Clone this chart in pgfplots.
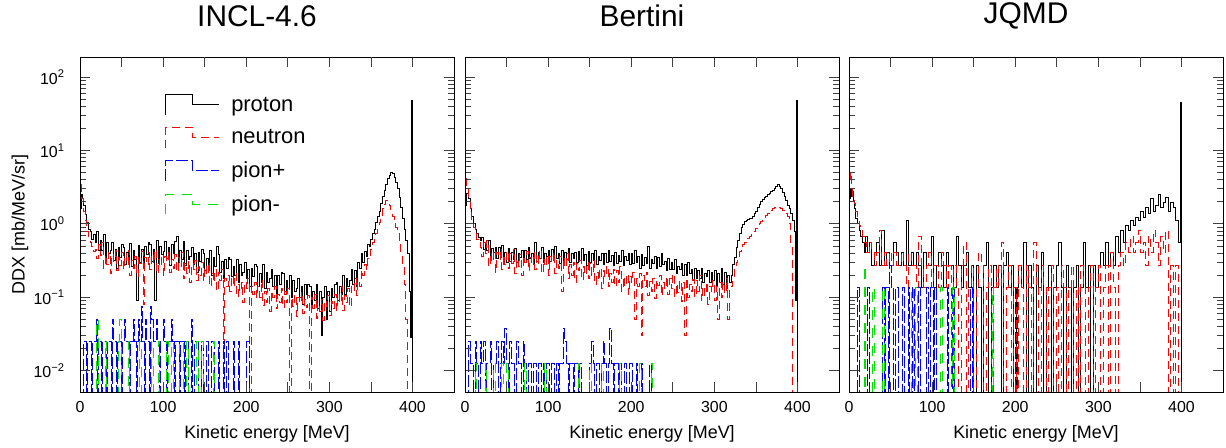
\documentclass[border=0pt]{standalone}
\usepackage{fontspec}
\setmainfont{Liberation Sans}
\usepackage{pgfplots}
\pgfplotsset{compat=1.18}
\definecolor{pgreen}{RGB}{0,225,0}

\pgfplotsset{
  ddxpanel/.style={
    scale only axis, width=374bp, height=335bp,
    anchor=south west,
    xmin=0, xmax=450, ymin=0.0051, ymax=188,
    xtick={0,100,200,300,400}, xticklabels={0,100,200,300,400},
    extra x ticks={50,150,250,350}, extra x tick labels={},
    ytick={0.01,0.1,1,10,100},
    tick align=inside, major tick length=10bp, minor tick length=6bp,
    every tick/.style={black!75, line width=0.7bp},
    axis line style={line width=0.8bp},
    tick label style={font=\fontsize{16}{18}\selectfont},
    xticklabel style={yshift=-6bp},
    xlabel={Kinetic energy [MeV]},
    every axis x label/.style={at={(axis description cs:0.5,0)}, yshift=-42bp, anchor=center, font=\fontsize{18}{20}\selectfont},
    title style={font=\fontsize{30}{34}\selectfont, at={(axis description cs:0.5,1)}, anchor=center, yshift=35bp, xshift=-10bp},
    axis on top,
  },
  sProt/.style={black, line width=0.8bp, const plot},
  sNeut/.style={red, line width=0.8bp, const plot, dash pattern=on 8bp off 5bp},
  sPip/.style={blue, line width=0.8bp, const plot, dash pattern=on 12bp off 3bp},
  sPim/.style={pgreen, line width=0.8bp, const plot, dash pattern=on 10bp off 8bp},
}

\begin{document}
\begin{tikzpicture}
\path[use as bounding box] (0,0) rectangle (1226bp,448bp);

% ---------------- INCL-4.6 ----------------
\begin{semilogyaxis}[ddxpanel, at={(80bp,56bp)}, title={INCL-4.6},
  yticklabels={10\textsuperscript{−2},10\textsuperscript{−1},10\textsuperscript{0},10\textsuperscript{1},10\textsuperscript{2}},
  yticklabel style={xshift=-12bp},
  ylabel={DDX [mb/MeV/sr]},
  every axis y label/.style={at={(axis description cs:0,0.5)}, xshift=-60bp, rotate=90, anchor=center, font=\fontsize{18}{20}\selectfont},
  legend image code/.code={\draw[#1] (0bp,-10bp) -- (0bp,10bp) -- (27bp,10bp) -- (27bp,0bp) -- (53bp,0bp);},
  legend style={draw=none, fill=none, at={(axis description cs:0.22,0.895)}, anchor=north west,
    font=\fontsize{22}{24}\selectfont, row sep=12bp, column sep=10bp},
  legend cell align=left,
]
\addplot[sProt] coordinates {(0,0.9)(1,1.6)(2,2.5)(3,2.2)(4,1.8)(6,1.35)(8,1.05)(10,0.85)(12,0.8)(14,0.62)(16,0.72)(18,0.55)
(20,0.78)(22,0.43)(24,0.59)(26,0.44)(28,0.71)(30,0.33)(32,0.55)(34,0.40)(36,0.43)(38,0.55)
(40,0.32)(42,0.45)(44,0.25)(46,0.48)(48,0.35)(50,0.52)(52,0.48)(54,0.28)(56,0.41)(58,0.31)
(60,0.54)(62,0.26)(64,0.44)(66,0.33)(68,0.09)(70,0.51)(72,0.30)(74,0.45)(76,0.25)(78,0.50)
(80,0.38)(82,0.56)(84,0.53)(86,0.31)(88,0.45)(90,0.09)(92,0.59)(94,0.29)(96,0.50)(98,0.38)
(100,0.42)(102,0.57)(104,0.34)(106,0.48)(108,0.27)(110,0.52)(112,0.40)(114,0.57)(116,0.68)(118,0.30)
(120,0.44)(122,0.33)(124,0.57)(126,0.27)(128,0.44)(130,0.33)(132,0.36)(134,0.47)(136,0.28)(138,0.39)
(140,0.22)(142,0.41)(144,0.31)(146,0.45)(148,0.40)(150,0.23)(152,0.34)(154,0.26)(156,0.44)(158,0.20)
(160,0.35)(162,0.26)(164,0.5)(166,0.38)(168,0.22)(170,0.31)(172,0.18)(174,0.33)(176,0.25)(178,0.35)
(180,0.33)(182,0.19)(184,0.26)(186,0.20)(188,0.33)(190,0.16)(192,0.28)(194,0.20)(196,0.22)(198,0.30)
(200,0.18)(202,0.24)(204,0.14)(206,0.25)(208,0.19)(210,0.28)(212,0.26)(214,0.14)(216,0.21)(218,0.16)
(220,0.28)(222,0.13)(224,0.22)(226,0.16)(228,0.18)(230,0.24)(232,0.14)(234,0.20)(236,0.11)(238,0.20)
(240,0.15)(242,0.22)(244,0.21)(246,0.11)(248,0.17)(250,0.13)(252,0.20)(254,0.10)(256,0.17)(258,0.12)
(260,0.13)(262,0.18)(264,0.10)(266,0.14)(268,0.08)(270,0.15)(272,0.11)(274,0.15)(276,0.14)(278,0.08)
(280,0.12)(282,0.09)(284,0.15)(286,0.07)(288,0.12)(290,0.03)(292,0.10)(294,0.14)(296,0.05)(298,0.12)
(300,0.065)(302,0.13)(304,0.10)(306,0.15)(308,0.16)(310,0.09)(312,0.14)(314,0.11)(316,0.20)(318,0.11)
(320,0.18)(322,0.14)(324,0.17)(326,0.24)(328,0.15)(330,0.23)(332,0.14)(334,0.30)(336,0.25)(338,0.39)
(340,0.3)(342,0.42)(344,0.36)(346,0.52)(348,0.5)(350,0.62)(352,0.75)(354,0.85)(356,1.05)(358,1.25)
(360,1.5)(362,1.9)(364,2.4)(366,2.9)(368,3.5)(370,4.1)(372,4.6)(374,5.0)(376,4.8)(378,4.3)
(380,3.7)(382,3.0)(384,2.3)(386,1.7)(388,1.2)(390,0.85)(392,0.6)(394,0.4)(396,0.12)(397,0.028)(399,48)(400.5,0.001)(450,0.001)};
\addlegendentry{proton}
\addplot[sNeut] coordinates {(0,5.0)(1,3.5)(2,2.2)(4,1.5)(6,1.1)(8,0.8)(10,0.68)(12,0.55)(14,0.5)(16,0.42)(18,0.45)
(20,0.34)(22,0.52)(24,0.37)(26,0.56)(28,0.25)(30,0.37)(32,0.28)(34,0.41)(36,0.21)(38,0.38)
(40,0.31)(42,0.43)(44,0.23)(46,0.35)(48,0.27)(50,0.41)(52,0.24)(54,0.39)(56,0.28)(58,0.44)
(60,0.20)(62,0.32)(64,0.25)(66,0.36)(68,0.19)(70,0.35)(72,0.29)(74,0.42)(76,0.08)(78,0.35)
(80,0.27)(82,0.41)(84,0.24)(86,0.39)(88,0.29)(90,0.45)(92,0.21)(94,0.33)(96,0.26)(98,0.38)
(100,0.20)(102,0.36)(104,0.30)(106,0.41)(108,0.22)(110,0.33)(112,0.25)(114,0.38)(116,0.22)(118,0.35)
(120,0.26)(122,0.41)(124,0.18)(126,0.29)(128,0.21)(130,0.31)(132,0.16)(134,0.29)(136,0.24)(138,0.32)
(140,0.17)(142,0.26)(144,0.20)(146,0.30)(148,0.17)(150,0.27)(152,0.20)(154,0.30)(156,0.14)(158,0.21)
(160,0.16)(162,0.24)(164,0.12)(166,0.22)(168,0.17)(170,0.24)(172,0.018)(174,0.18)(176,0.14)(178,0.20)
(180,0.12)(182,0.20)(184,0.14)(186,0.21)(188,0.10)(190,0.15)(192,0.12)(194,0.16)(196,0.085)(198,0.16)
(200,0.13)(202,0.18)(204,0.001)(206,0.14)(208,0.11)(210,0.16)(212,0.10)(214,0.14)(216,0.10)(218,0.17)
(220,0.077)(222,0.12)(224,0.085)(226,0.13)(228,0.065)(230,0.12)(232,0.10)(234,0.14)(236,0.07)(238,0.11)
(240,0.085)(242,0.13)(244,0.072)(246,0.12)(248,0.085)(250,0.13)(252,0.001)(254,0.097)(256,0.074)(258,0.11)
(260,0.055)(262,0.10)(264,0.083)(266,0.115)(268,0.06)(270,0.092)(272,0.072)(274,0.105)(276,0.001)(278,0.10)
(280,0.071)(282,0.11)(284,0.052)(286,0.083)(288,0.064)(290,0.094)(292,0.049)(294,0.09)(296,0.075)(298,0.105)
(300,0.056)(302,0.089)(304,0.071)(306,0.11)(308,0.066)(310,0.11)(312,0.084)(314,0.14)(316,0.066)(318,0.107)
(320,0.085)(322,0.13)(324,0.073)(326,0.14)(328,0.124)(330,0.18)(332,0.105)(334,0.17)(336,0.14)(338,0.23)
(340,0.2)(342,0.28)(344,0.24)(346,0.34)(348,0.36)(350,0.45)(352,0.55)(354,0.62)(356,0.75)(358,0.9)
(360,1.05)(362,1.3)(364,1.6)(366,1.85)(368,2.1)(370,2.0)(372,1.8)(374,1.5)(376,1.25)(378,1.05)
(380,0.9)(382,0.75)(384,0.55)(386,0.4)(388,0.28)(390,0.15)(392,0.05)(394,0.001)(450,0.001)};
\addlegendentry{neutron}
\addplot[sPip] coordinates {(2,0.001)(4,0.025)(6,0.025)(8,0.001)(9,0.025)(12,0.025)(14,0.001)(15,0.025)(18,0.025)(20,0.05)(21,0.001)(22,0.025)(24,0.025)(26,0.001)(27,0.025)(30,0.025)(32,0.001)(33,0.025)(36,0.025)(38,0.001)(39,0.05)(40,0.025)(42,0.025)(44,0.001)(45,0.025)(48,0.025)(50,0.001)(51,0.025)(54,0.05)(55,0.025)(58,0.025)(60,0.001)(61,0.025)(64,0.05)(65,0.025)(68,0.001)(69,0.025)(70,0.05)(72,0.025)(74,0.075)(75,0.025)(78,0.001)(79,0.05)(80,0.025)(82,0.025)(84,0.001)(85,0.075)(86,0.05)(88,0.025)(90,0.025)(92,0.05)(93,0.025)(96,0.001)(97,0.025)(100,0.05)(102,0.025)(104,0.001)(105,0.025)(108,0.025)(110,0.05)(111,0.025)(114,0.001)(115,0.025)(118,0.025)(120,0.001)(121,0.025)(124,0.025)(126,0.001)(127,0.025)(130,0.001)(134,0.05)(135,0.001)(138,0.025)(140,0.025)(142,0.001)(146,0.025)(148,0.001)(152,0.025)(154,0.001)(158,0.025)(160,0.025)(162,0.001)(166,0.025)(168,0.001)(172,0.025)(174,0.001)(176,0.025)(178,0.001)(184,0.025)(186,0.001)(190,0.025)(192,0.001)(200,0.025)(202,0.025)(204,0.001)(210,0.001)};
\addlegendentry{pion+}
\addplot[sPim] coordinates {(0,0.001)(20,0.05)(22,0.001)(30,0.025)(32,0.001)(46,0.025)(48,0.05)(50,0.001)(58,0.025)(60,0.001)(72,0.025)(74,0.001)(86,0.025)(88,0.001)(94,0.025)(96,0.001)(104,0.025)(106,0.001)(110,0.025)(112,0.001)(120,0.025)(122,0.025)(124,0.001)(128,0.025)(130,0.001)(140,0.025)(142,0.001)(146,0.025)(148,0.001)(160,0.025)(162,0.001)(200,0.001)};
\addlegendentry{pion-}
\end{semilogyaxis}

% ---------------- Bertini ----------------
\begin{semilogyaxis}[ddxpanel, at={(465bp,56bp)}, title={Bertini}, yticklabels={}]
\addplot[sProt] coordinates {(0,0.5)(1,1.8)(2,2.6)(4,2.2)(6,1.6)(8,1.25)(10,1.0)(12,0.85)(14,0.75)(16,0.66)(18,0.6)
(20,0.66)(22,0.45)(24,0.56)(26,0.44)(28,0.59)(30,0.36)(32,0.46)(34,0.41)(36,0.48)(38,0.34)
(40,0.47)(42,0.35)(44,0.51)(46,0.36)(48,0.41)(50,0.30)(52,0.46)(54,0.31)(56,0.41)(58,0.33)
(60,0.46)(62,0.30)(64,0.39)(66,0.35)(68,0.43)(70,0.30)(72,0.44)(74,0.33)(76,0.48)(78,0.34)
(80,0.40)(82,0.29)(84,0.55)(86,0.31)(88,0.41)(90,0.34)(92,0.48)(94,0.30)(96,0.40)(98,0.36)
(100,0.44)(102,0.31)(104,0.45)(106,0.33)(108,0.49)(110,0.34)(112,0.40)(114,0.29)(116,0.44)(118,0.31)
(120,0.41)(122,0.33)(124,0.46)(126,0.30)(128,0.39)(130,0.34)(132,0.41)(134,0.30)(136,0.42)(138,0.32)
(140,0.46)(142,0.32)(144,0.38)(146,0.27)(148,0.42)(150,0.30)(152,0.39)(154,0.32)(156,0.44)(158,0.28)
(160,0.36)(162,0.32)(164,0.39)(166,0.28)(168,0.40)(170,0.30)(172,0.44)(174,0.31)(176,0.37)(178,0.27)
(180,0.41)(182,0.29)(184,0.37)(186,0.31)(188,0.43)(190,0.27)(192,0.36)(194,0.32)(196,0.39)(198,0.28)
(200,0.39)(202,0.29)(204,0.43)(206,0.30)(208,0.36)(210,0.25)(212,0.38)(214,0.27)(216,0.35)(218,0.29)
(220,0.5)(222,0.25)(224,0.33)(226,0.29)(228,0.36)(230,0.25)(232,0.35)(234,0.26)(236,0.39)(238,0.28)
(240,0.31)(242,0.23)(244,0.34)(246,0.24)(248,0.30)(250,0.24)(252,0.33)(254,0.21)(256,0.26)(258,0.24)
(260,0.29)(262,0.20)(264,0.28)(266,0.20)(268,0.30)(270,0.21)(272,0.24)(274,0.17)(276,0.25)(278,0.18)
(280,0.23)(282,0.18)(284,0.25)(286,0.16)(288,0.21)(290,0.19)(292,0.23)(294,0.16)(296,0.22)(298,0.17)
(300,0.23)(302,0.14)(304,0.21)(306,0.16)(308,0.25)(310,0.15)(312,0.22)(314,0.13)(316,0.2)(318,0.16)
(320,0.2)(322,0.28)(324,0.35)(326,0.48)(328,0.6)(330,0.75)(332,0.88)(334,0.98)(336,1.08)(338,1.12)
(340,1.15)(342,1.2)(344,1.2)(346,1.28)(348,1.38)(350,1.5)(352,1.65)(354,1.85)(356,2.0)(358,2.15)
(360,2.3)(362,2.4)(364,2.5)(366,2.6)(368,2.75)(370,2.85)(372,3.0)(374,3.2)(376,3.4)(378,3.2)
(380,3.0)(382,2.7)(384,2.4)(386,2.1)(388,1.8)(390,1.6)(392,1.4)(394,1.1)(396,0.8)(398,0.09)(399,48)(400.5,0.001)(450,0.001)};
\addplot[sNeut] coordinates {(0,6)(1,4.5)(2,3.2)(4,2.2)(6,1.5)(8,1.1)(10,0.9)(12,0.75)(14,0.62)(16,0.55)(18,0.48)
(20,0.36)(22,0.56)(24,0.39)(26,0.59)(28,0.26)(30,0.40)(32,0.30)(34,0.44)(36,0.22)(38,0.41)
(40,0.33)(42,0.46)(44,0.24)(46,0.37)(48,0.28)(50,0.42)(52,0.25)(54,0.40)(56,0.29)(58,0.45)
(60,0.21)(62,0.33)(64,0.26)(66,0.38)(68,0.20)(70,0.36)(72,0.30)(74,0.42)(76,0.23)(78,0.35)
(80,0.27)(82,0.41)(84,0.24)(86,0.39)(88,0.29)(90,0.45)(92,0.21)(94,0.33)(96,0.26)(98,0.38)
(100,0.20)(102,0.36)(104,0.29)(106,0.41)(108,0.21)(110,0.32)(112,0.25)(114,0.36)(116,0.12)(118,0.34)
(120,0.25)(122,0.39)(124,0.18)(126,0.28)(128,0.20)(130,0.30)(132,0.16)(134,0.29)(136,0.23)(138,0.32)
(140,0.17)(142,0.26)(144,0.20)(146,0.30)(148,0.18)(150,0.29)(152,0.20)(154,0.32)(156,0.15)(158,0.22)
(160,0.17)(162,0.25)(164,0.13)(166,0.23)(168,0.19)(170,0.27)(172,0.14)(174,0.21)(176,0.16)(178,0.24)
(180,0.14)(182,0.23)(184,0.16)(186,0.26)(188,0.12)(190,0.19)(192,0.14)(194,0.21)(196,0.11)(198,0.19)
(200,0.16)(202,0.22)(204,0.05)(206,0.18)(208,0.14)(210,0.21)(212,0.03)(214,0.2)(216,0.14)(218,0.22)
(220,0.105)(222,0.165)(224,0.12)(226,0.18)(228,0.095)(230,0.17)(232,0.145)(234,0.2)(236,0.105)(238,0.16)
(240,0.13)(242,0.19)(244,0.11)(246,0.18)(248,0.13)(250,0.21)(252,0.1)(254,0.15)(256,0.115)(258,0.17)
(260,0.088)(262,0.16)(264,0.03)(266,0.18)(268,0.1)(270,0.15)(272,0.12)(274,0.175)(276,0.1)(278,0.17)
(280,0.12)(282,0.2)(284,0.09)(286,0.14)(288,0.105)(290,0.16)(292,0.08)(294,0.14)(296,0.12)(298,0.17)
(300,0.09)(302,0.14)(304,0.05)(306,0.16)(308,0.1)(310,0.16)(312,0.11)(314,0.18)(316,0.05)(318,0.13)
(320,0.14)(322,0.18)(324,0.24)(326,0.3)(328,0.36)(330,0.42)(332,0.48)(334,0.53)(336,0.56)(338,0.6)
(340,0.64)(342,0.68)(344,0.72)(346,0.76)(348,0.8)(350,0.86)(352,0.92)(354,1.0)(356,1.08)(358,1.15)
(360,1.22)(362,1.3)(364,1.38)(366,1.45)(368,1.52)(370,1.6)(372,1.68)(374,1.72)(376,1.7)(378,1.65)
(380,1.6)(382,1.52)(384,1.45)(386,1.38)(388,1.25)(390,1.0)(392,0.5)(394,0.001)(450,0.001)};
\addplot[sPip] coordinates {(0,0.001)(4,0.025)(6,0.0125)(8,0.0125)(10,0.001)(12,0.025)(14,0.0125)(16,0.001)(18,0.025)(20,0.0125)(22,0.025)(24,0.001)(26,0.0125)(28,0.0125)(30,0.025)(32,0.001)(34,0.0125)(36,0.0125)(38,0.025)(40,0.001)(42,0.0125)(44,0.025)(46,0.0125)(48,0.0375)(50,0.0125)(52,0.001)(54,0.025)(56,0.0125)(58,0.0125)(60,0.001)(62,0.025)(64,0.0125)(66,0.0125)(68,0.001)(70,0.025)(72,0.0125)(74,0.001)(76,0.0125)(78,0.0125)(80,0.001)(82,0.0125)(84,0.0125)(86,0.001)(88,0.0125)(90,0.0125)(92,0.001)(94,0.0125)(96,0.001)(98,0.0125)(100,0.0125)(102,0.001)(104,0.0125)(106,0.0125)(108,0.001)(110,0.0125)(112,0.001)(114,0.0125)(116,0.0125)(118,0.0375)(120,0.025)(122,0.0125)(124,0.001)(126,0.0125)(128,0.0125)(130,0.001)(132,0.0125)(134,0.0125)(136,0.001)(138,0.0125)(140,0.001)(150,0.0125)(152,0.025)(154,0.0125)(156,0.001)(158,0.0125)(160,0.0125)(162,0.001)(164,0.0125)(166,0.025)(168,0.0125)(170,0.001)(172,0.0125)(174,0.0375)(176,0.0125)(178,0.001)(180,0.0125)(182,0.0125)(184,0.001)(186,0.0125)(188,0.001)(192,0.0125)(194,0.001)(198,0.0125)(200,0.0125)(202,0.001)(206,0.0125)(208,0.001)(212,0.0125)(214,0.001)(222,0.0125)(224,0.001)(230,0.001)};
\addplot[sPim] coordinates {(0,0.001)(12,0.0125)(14,0.001)(24,0.0125)(26,0.001)(34,0.0125)(36,0.001)(44,0.0125)(46,0.001)(50,0.0125)(52,0.001)(72,0.0125)(74,0.001)(96,0.0125)(98,0.001)(136,0.0125)(138,0.001)(150,0.0125)(152,0.001)(164,0.0125)(166,0.001)(186,0.0125)(188,0.001)(210,0.0125)(212,0.001)(224,0.0125)(226,0.001)(230,0.001)};
\end{semilogyaxis}

% ---------------- JQMD ----------------
\begin{semilogyaxis}[ddxpanel, at={(849bp,56bp)}, title={JQMD}, yticklabels={}]
\addplot[sProt] coordinates {(0,0.7)(1,2.2)(2,3.0)(3,2.4)(4,2.8)(5,2.0)(6,1.6)(8,1.2)(10,1.0)(12,0.82)(14,0.68)(16,0.55)(18,0.41)(20,0.68)(22,0.41)(24,0.55)(27,0.27)(30,0.41)(33,0.55)(36,0.27)(39,0.82)(42,0.27)(45,0.41)(48,0.27)(51,0.27)(54,0.55)(57,0.41)(60,0.27)(63,0.41)(66,0.27)(69,1.1)(72,0.27)(75,0.41)(78,0.27)(81,0.41)(84,0.27)(87,0.137)(90,0.41)(93,0.27)(96,0.27)(99,0.68)(102,0.137)(105,0.27)(108,0.41)(111,0.27)(114,0.137)(117,0.41)(120,0.27)(123,0.27)(126,0.137)(129,0.68)(132,0.27)(135,0.137)(138,0.27)(141,0.41)(144,0.137)(147,0.27)(150,0.001)(153,0.27)(156,0.137)(159,0.001)(162,0.27)(165,0.55)(168,0.001)(171,0.137)(174,0.27)(177,0.137)(180,0.27)(183,0.001)(186,0.27)(189,0.41)(192,0.137)(195,0.27)(198,0.001)(201,0.137)(204,0.27)(207,0.137)(210,0.55)(213,0.001)(216,0.27)(219,0.137)(222,0.001)(225,0.27)(228,0.137)(231,0.41)(234,0.001)(237,0.137)(240,0.27)(243,0.001)(246,0.137)(249,0.27)(252,0.55)(255,0.137)(258,0.001)(261,0.27)(264,0.137)(267,0.001)(270,0.137)(273,0.27)(276,0.001)(279,0.137)(282,0.55)(285,0.137)(288,0.27)(291,0.001)(294,0.27)(297,0.137)(300,0.27)(303,0.41)(306,0.27)(309,0.55)(312,0.27)(315,0.41)(318,0.27)(321,0.68)(324,0.41)(327,0.82)(330,0.55)(333,0.96)(336,0.82)(339,1.1)(342,0.96)(345,1.24)(348,1.1)(351,1.5)(354,1.24)(357,1.65)(360,1.38)(363,2.2)(366,1.5)(369,1.8)(372,2.5)(375,1.65)(378,1.93)(381,2.3)(384,1.5)(387,1.93)(390,1.65)(393,1.1)(396,0.55)(399,45)(400.5,0.001)(450,0.001)};
\addplot[sNeut] coordinates {(0,6)(1,4)(2,5)(3,3.2)(4,2.4)(6,1.9)(8,1.5)(10,1.2)(12,0.96)(14,0.82)(16,0.68)(18,0.55)(21,0.41)(24,0.55)(27,0.41)(30,0.27)(33,0.41)(36,0.82)(39,0.27)(42,0.41)(45,0.27)(48,0.41)(51,0.27)(54,0.41)(57,0.27)(60,0.27)(63,0.41)(66,0.27)(69,0.137)(72,0.41)(75,0.27)(78,0.27)(81,0.137)(84,0.68)(87,0.27)(90,0.137)(93,0.27)(96,0.41)(99,0.137)(102,0.27)(105,0.27)(108,0.137)(111,0.41)(114,0.27)(117,0.137)(120,0.27)(123,0.001)(126,0.27)(129,0.137)(132,0.001)(135,0.27)(138,0.55)(141,0.001)(144,0.137)(147,0.27)(150,0.001)(153,0.137)(156,0.41)(159,0.27)(162,0.001)(165,0.137)(168,0.27)(171,0.001)(174,0.137)(177,0.27)(180,0.137)(183,0.55)(186,0.001)(189,0.137)(192,0.27)(195,0.001)(198,0.137)(201,0.001)(204,0.27)(207,0.137)(210,0.001)(213,0.27)(216,0.137)(219,0.001)(222,0.55)(225,0.137)(228,0.001)(231,0.27)(234,0.137)(237,0.001)(240,0.137)(243,0.27)(246,0.001)(249,0.137)(252,0.001)(255,0.27)(258,0.137)(261,0.001)(264,0.137)(267,0.27)(270,0.001)(273,0.137)(276,0.001)(279,0.27)(282,0.137)(285,0.001)(288,0.137)(291,0.27)(294,0.001)(297,0.137)(300,0.27)(303,0.001)(306,0.137)(309,0.27)(312,0.001)(315,0.41)(318,0.137)(321,0.001)(324,0.27)(327,0.41)(330,0.27)(333,0.55)(336,0.41)(339,0.68)(342,0.41)(345,0.55)(348,0.82)(351,0.41)(354,0.55)(357,0.27)(360,0.68)(363,0.41)(366,0.82)(369,0.55)(372,0.27)(375,0.68)(378,0.41)(381,0.82)(384,0.001)(387,0.27)(390,0.001)(393,0.27)(396,0.001)(450,0.001)};
\addplot[sPip] coordinates {(0,0.001)(10,0.137)(13,0.001)(22,0.137)(24,0.001)(40,0.137)(43,0.001)(44,0.137)(47,0.001)(49,0.27)(51,0.137)(54,0.001)(56,0.137)(59,0.001)(64,0.137)(67,0.001)(71,0.137)(73,0.001)(76,0.137)(79,0.001)(84,0.137)(86,0.001)(93,0.137)(96,0.001)(98,0.137)(101,0.001)(103,0.137)(105,0.001)(118,0.137)(120,0.001)(124,0.137)(127,0.001)(146,0.137)(149,0.001)(200,0.137)(203,0.001)(210,0.001)};
\addplot[sPim] coordinates {(0,0.001)(18,0.27)(20,0.001)(28,0.137)(30,0.001)(40,0.137)(42,0.001)(75,0.137)(77,0.001)(80,0.137)(82,0.001)(110,0.137)(112,0.001)(125,0.137)(127,0.001)(172,0.137)(174,0.001)(180,0.001)};
\end{semilogyaxis}
\end{tikzpicture}
\end{document}
